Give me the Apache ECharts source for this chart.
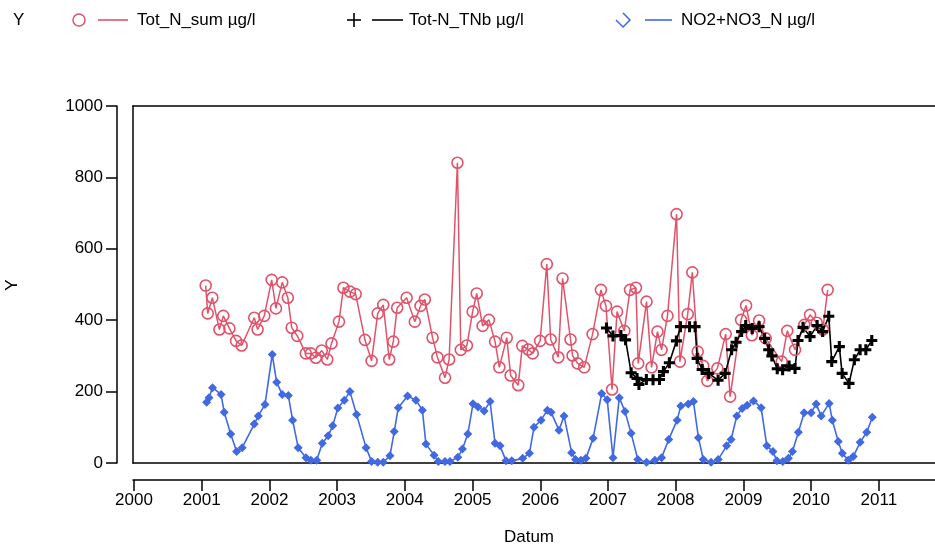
<!DOCTYPE html>
<html>
<head>
<meta charset="utf-8">
<script src="https://cdn.jsdelivr.net/npm/echarts@6/dist/echarts.min.js"></script>
<style>html,body{margin:0;padding:0;background:#fff}#c{width:935px;height:547px}</style>
</head>
<body>
<div id="c"></div>
<script>
var totNDates = ['2001-01-22','2001-02-02','2001-02-27','2001-04-06','2001-04-27','2001-05-30','2001-07-05','2001-08-04','2001-10-11','2001-10-29','2001-12-04',
'2002-01-13','2002-02-05','2002-03-11','2002-04-10','2002-05-01','2002-05-31','2002-07-16','2002-08-12','2002-09-08','2002-10-10','2002-11-09','2002-12-02',
'2003-01-11','2003-02-04','2003-03-11','2003-04-11','2003-05-31','2003-07-06','2003-08-08','2003-09-07','2003-10-09','2003-10-31','2003-11-21',
'2004-01-11','2004-02-24','2004-03-26','2004-04-18','2004-05-30','2004-06-25','2004-08-05','2004-08-27','2004-10-11','2004-10-29','2004-12-01',
'2005-01-01','2005-01-23','2005-02-24','2005-03-30','2005-05-02','2005-05-25','2005-07-04','2005-07-25','2005-09-04','2005-09-26','2005-10-28','2005-11-21','2005-12-31',
'2006-02-05','2006-02-26','2006-04-08','2006-05-01','2006-06-13','2006-06-24','2006-07-21','2006-08-26','2006-10-10','2006-11-24','2006-12-21',
'2007-01-23','2007-02-19','2007-03-30','2007-04-30','2007-06-01','2007-06-13','2007-07-28','2007-08-24','2007-09-25','2007-10-17','2007-11-18',
'2008-01-06','2008-01-24','2008-03-06','2008-03-31','2008-04-29','2008-05-29','2008-06-20','2008-08-13','2008-09-27','2008-10-21','2008-12-19',
'2009-01-15','2009-02-15','2009-03-26','2009-05-01','2009-07-26','2009-08-25','2009-10-06','2009-11-25','2009-12-26',
'2010-01-31','2010-03-05','2010-03-31'];
var totNValues = [497,419,463,374,412,377,342,329,407,374,412,
513,433,506,463,379,356,307,307,295,315,290,335,
396,491,480,473,345,286,419,443,290,340,435,
463,396,440,458,351,296,239,290,841,317,329,
424,475,384,401,340,268,351,245,218,328,318,307,342,
557,346,296,517,346,301,279,268,361,485,440,
206,424,370,485,491,279,452,268,368,317,412,
697,284,417,534,312,272,230,265,361,186,401,
441,358,399,349,284,370,317,387,415,
393,374,485];

var tnbDates = ['2006-12-24','2007-01-28','2007-03-12','2007-04-06','2007-05-06','2007-06-07','2007-06-17','2007-07-27','2007-09-01','2007-10-06','2007-10-27','2007-11-28',
'2008-01-05','2008-01-27','2008-03-16','2008-04-15','2008-04-26','2008-05-23','2008-06-27','2008-08-17','2008-09-24','2008-10-29','2008-11-22','2008-12-22',
'2009-01-13','2009-02-17','2009-03-26','2009-04-25','2009-05-17','2009-06-03','2009-07-02','2009-07-31','2009-09-04','2009-10-06','2009-10-22','2009-11-18','2009-12-26',
'2010-02-02','2010-03-04','2010-04-06','2010-04-22','2010-06-02','2010-06-17','2010-07-24','2010-08-22','2010-09-22','2010-10-23','2010-11-24'];
var tnbValues = [378,356,357,345,253,237,220,234,233,234,256,281,
342,382,382,382,293,262,251,232,251,317,338,368,
385,377,382,349,317,300,264,261,272,265,343,380,354,
385,368,411,284,326,251,223,289,317,317,343];

var no3Dates = ['2001-01-27','2001-02-09','2001-02-28','2001-04-15','2001-05-02','2001-06-06','2001-07-08','2001-08-07','2001-10-11','2001-11-02','2001-12-08',
'2002-01-16','2002-02-09','2002-03-11','2002-04-13','2002-05-06','2002-06-05','2002-07-17','2002-08-12','2002-09-13','2002-10-13','2002-11-14','2002-12-08',
'2003-01-05','2003-02-09','2003-03-11','2003-04-16','2003-06-06','2003-07-06','2003-08-08','2003-09-07','2003-10-13','2003-11-05','2003-11-27',
'2004-01-16','2004-03-01','2004-04-05','2004-04-24','2004-06-07','2004-06-30','2004-08-05','2004-09-01','2004-10-13','2004-11-07','2004-12-06',
'2005-01-03','2005-01-30','2005-03-04','2005-04-05','2005-05-02','2005-05-29','2005-06-30','2005-07-31','2005-09-28','2005-11-03','2005-11-28',
'2006-01-05','2006-02-08','2006-02-28','2006-04-12','2006-05-09','2006-06-19','2006-07-10','2006-08-08','2006-09-04','2006-10-13','2006-11-28','2006-12-28',
'2007-01-28','2007-03-03','2007-04-03','2007-05-06','2007-06-11','2007-07-28','2007-09-11','2007-10-17','2007-11-25',
'2008-01-09','2008-01-29','2008-03-09','2008-04-06','2008-05-03','2008-05-29','2008-07-10','2008-08-18','2008-10-02','2008-10-26','2008-11-26','2008-12-25',
'2009-01-21','2009-02-24','2009-04-06','2009-05-07','2009-06-09','2009-06-30','2009-08-01','2009-08-31','2009-09-22','2009-10-24','2009-11-24',
'2010-01-01','2010-01-28','2010-02-24','2010-04-08','2010-04-25','2010-05-27','2010-06-18','2010-07-20','2010-08-16','2010-09-22','2010-10-28','2010-11-27'];
var no3Values = [170,183,211,192,142,81,32,43,109,132,164,
304,226,192,189,120,43,15,8,8,55,76,104,
154,176,200,136,43,4,2,2,20,88,155,
188,176,148,53,22,4,4,4,16,39,81,
166,157,146,172,55,48,6,6,13,27,100,
120,148,142,92,132,29,10,8,13,69,195,177,
15,183,144,83,10,2,8,15,66,
120,160,165,172,71,10,2,10,48,66,132,153,
162,174,155,48,32,6,4,13,32,86,141,
141,165,132,167,120,60,27,8,18,58,86,128];

var yearTicks = ['2000-01-01','2001-01-01','2002-01-01','2003-01-01','2004-01-01','2005-01-01','2006-01-01','2007-01-01','2008-01-01','2009-01-01','2010-01-01','2011-01-01'];
var xRange = ['1999-12-27','2011-10-31'];
var seriesNames = ['Tot_N_sum µg/l','Tot-N_TNb µg/l','NO2+NO3_N µg/l'];

var RED = '#DF536B', BLUE = '#4169E1', BLACK = '#000000';
var FONT = '"Liberation Sans", Arial, sans-serif';

function ts(s) { return new Date(s + 'T00:00:00Z').getTime(); }
function zip(d, v) { return d.map(function (x, i) { return [ts(x), v[i]]; }); }
var yearTickTs = yearTicks.map(ts);

var chart = echarts.init(document.getElementById('c'), null, {renderer: 'canvas'});
var plusPath = 'path://M3.6,0H6.4V3.6H10V6.4H6.4V10H3.6V6.4H0V3.6H3.6Z';

function txt(x, y, s, align, rot) {
  return {type: 'text', x: x, y: y, rotation: rot || 0,
    style: {text: s, font: '17px ' + FONT, fill: '#000', align: align || 'left', verticalAlign: 'middle',
      textAlign: align || 'left', textVerticalAlign: 'middle'}};
}
var blackLine = {show: true, onZero: false, lineStyle: {color: '#000', width: 1.5}};

chart.setOption({
  animation: false,
  backgroundColor: '#fff',
  grid: {left: 133, top: 106, height: 357, right: 0, show: false, outerBoundsMode: 'none', containLabel: false},
  xAxis: [{
    type: 'value', min: ts(xRange[0]), max: ts(xRange[1]), offset: 17, scale: true, position: 'bottom',
    axisLine: blackLine,
    axisTick: {show: true, inside: false, length: 11, lineStyle: {color: '#000', width: 1.5}, customValues: yearTickTs},
    axisLabel: {show: true, customValues: yearTickTs, margin: 12, color: '#000', fontSize: 17, fontFamily: FONT,
      showMinLabel: true, showMaxLabel: true,
      formatter: function (v) { return String(new Date(v).getUTCFullYear()); }},
    splitLine: {show: false}, minorTick: {show: false}
  }, {
    type: 'value', min: ts(xRange[0]), max: ts(xRange[1]), position: 'top', scale: true,
    axisLine: blackLine, axisTick: {show: false}, axisLabel: {show: false}, splitLine: {show: false}
  }, {
    type: 'value', min: ts(xRange[0]), max: ts(xRange[1]), position: 'bottom', offset: 0, scale: true,
    axisLine: blackLine, axisTick: {show: false}, axisLabel: {show: false}, splitLine: {show: false}
  }],
  yAxis: [{
    type: 'value', min: 0, max: 1000, interval: 200, offset: 16, position: 'left',
    axisLine: blackLine,
    axisTick: {show: true, inside: false, length: 11, lineStyle: {color: '#000', width: 1.5}},
    axisLabel: {margin: 14, color: '#000', fontSize: 17, fontFamily: FONT, formatter: function (v) { return String(v); }},
    splitLine: {show: false}
  }, {
    type: 'value', min: 0, max: 1000, offset: 0, position: 'left',
    axisLine: blackLine, axisTick: {show: false}, axisLabel: {show: false}, splitLine: {show: false}
  }],
  series: [
    {name: seriesNames[0], type: 'line', data: zip(totNDates, totNValues), clip: false,
      symbol: 'circle', symbolSize: 11, showAllSymbol: true,
      lineStyle: {color: RED, width: 1.5},
      itemStyle: {color: 'rgba(255,255,255,0)', borderColor: RED, borderWidth: 1.6}},
    {name: seriesNames[1], type: 'line', data: zip(tnbDates, tnbValues), clip: false,
      symbol: plusPath, symbolSize: 11, showAllSymbol: true,
      lineStyle: {color: BLACK, width: 1.6},
      itemStyle: {color: BLACK}},
    {name: seriesNames[2], type: 'line', data: zip(no3Dates, no3Values), clip: false,
      symbol: 'diamond', symbolSize: 9, showAllSymbol: true,
      lineStyle: {color: BLUE, width: 1.6},
      itemStyle: {color: BLUE}}
  ],
  graphic: [
    txt(13, 20, 'Y'),
    {type: 'circle', shape: {cx: 79, cy: 20, r: 6}, style: {fill: 'none', stroke: RED, lineWidth: 1.5}},
    {type: 'line', shape: {x1: 98, y1: 20, x2: 128, y2: 20}, style: {stroke: RED, lineWidth: 1.6}},
    txt(137, 20, seriesNames[0]),
    {type: 'line', shape: {x1: 347, y1: 20, x2: 361, y2: 20}, style: {stroke: BLACK, lineWidth: 1.6}},
    {type: 'line', shape: {x1: 354, y1: 13, x2: 354, y2: 27}, style: {stroke: BLACK, lineWidth: 1.6}},
    {type: 'line', shape: {x1: 372, y1: 20, x2: 403, y2: 20}, style: {stroke: BLACK, lineWidth: 1.6}},
    txt(409, 20, seriesNames[1]),
    {type: 'polyline', shape: {points: [[623, 13], [630, 20], [623, 27], [616, 20]]}, style: {fill: 'none', stroke: BLUE, lineWidth: 1.5}},
    {type: 'line', shape: {x1: 645, y1: 20, x2: 672, y2: 20}, style: {stroke: BLUE, lineWidth: 1.6}},
    txt(681, 20, seriesNames[2]),
    txt(12, 285, 'Y', 'center', Math.PI / 2),
    txt(529, 537, 'Datum', 'center')
  ]
});
</script>
</body>
</html>
